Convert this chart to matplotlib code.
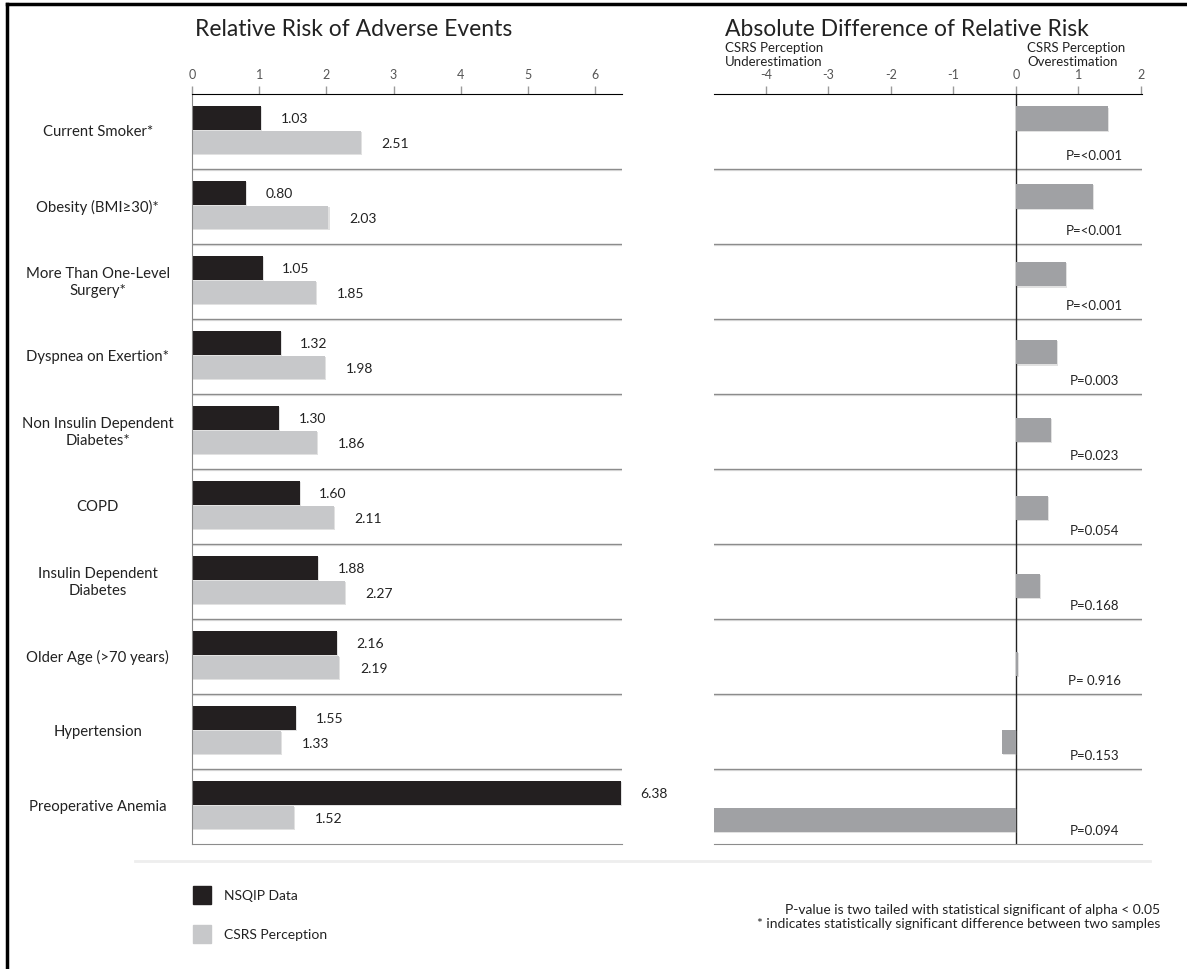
import numpy as np
import matplotlib
matplotlib.use("Agg")
import matplotlib.pyplot as plt
import matplotlib.patheffects as pe
from matplotlib.lines import Line2D
from matplotlib.patches import Rectangle

plt.rcParams['font.family'] = ['Lato', 'DejaVu Sans']
plt.rcParams['axes.unicode_minus'] = False

categories = ["Current Smoker*", "Obesity (BMI\u226530)*", "More Than One-Level\nSurgery*",
              "Dyspnea on Exertion*", "Non Insulin Dependent\nDiabetes*", "COPD",
              "Insulin Dependent\nDiabetes", "Older Age (>70 years)", "Hypertension",
              "Preoperative Anemia"]
nsqip = [1.03, 0.80, 1.05, 1.32, 1.30, 1.60, 1.88, 2.16, 1.55, 6.38]
csrs = [2.51, 2.03, 1.85, 1.98, 1.86, 2.11, 2.27, 2.19, 1.33, 1.52]
abs_diff = [1.48, 1.23, 0.80, 0.66, 0.56, 0.51, 0.39, 0.03, -0.22, -4.86]
p_labels = ["P=<0.001", "P=<0.001", "P=<0.001", "P=0.003", "P=0.023",
            "P=0.054", "P=0.168", "P= 0.916", "P=0.153", "P=0.094"]
left_ticks = [0, 1, 2, 3, 4, 5, 6]
right_ticks = [-4, -3, -2, -1, 0, 1, 2]

BLACK = '#231f20'
LIGHT = '#c7c8ca'
MID = '#a0a1a4'
SEP = '#8c8c8c'
TXT = '#222222'

W, H = 1187, 970
fig = plt.figure(figsize=(W / 100, H / 100), dpi=100)

shadow = [pe.SimplePatchShadow(offset=(0.8, -0.8), shadow_rgbFace='#888888', alpha=0.25), pe.Normal()]
line_shadow = [pe.SimpleLineShadow(offset=(0, -1), shadow_color='#cccccc', alpha=0.5), pe.Normal()]

y = np.arange(len(categories))

# ---- left panel: relative risk
ax1 = fig.add_axes([192 / W, 1 - 845 / H, 430 / W, 750 / H])
ax1.barh(y - 0.18, nsqip, height=0.31, color=BLACK, path_effects=shadow)
ax1.barh(y + 0.15, csrs, height=0.31, color=LIGHT, path_effects=shadow)
ax1.set_xlim(0, 6.4)
ax1.set_ylim(9.5, -0.5)
for i in range(len(categories) - 1):
    ax1.axhline(i + 0.5, color=SEP, lw=1, path_effects=line_shadow)
for i, (a, b) in enumerate(zip(nsqip, csrs)):
    ax1.annotate(f"{a:.2f}", (a, i - 0.18), xytext=(14, 0), textcoords='offset points',
                 va='center', fontsize=10, color=TXT)
    ax1.annotate(f"{b:.2f}", (b, i + 0.15), xytext=(15, 0), textcoords='offset points',
                 va='center', fontsize=10, color=TXT)
    ax1.text(-0.219, i, categories[i], transform=ax1.get_yaxis_transform(),
             ha='center', va='center', fontsize=10.7, color=TXT, linespacing=1.2)

ax1.xaxis.tick_top()
ax1.set_xticks(left_ticks)
ax1.tick_params(axis='x', length=6, width=1, color='#9a9a9a', labelcolor='#555555',
                labelsize=9, pad=4)
ax1.set_yticks([])
ax1.spines['right'].set_visible(False)
ax1.spines['top'].set_color('black')
ax1.spines['left'].set_color('#888888')
ax1.spines['bottom'].set_color(SEP)

# ---- right panel: absolute difference
ax2 = fig.add_axes([714 / W, 1 - 845 / H, 428 / W, 750 / H])
ax2.set_xlim(-4.83, 2.02)
ax2.set_ylim(9.5, -0.5)
for i in range(len(categories) - 1):
    ax2.axhline(i + 0.5, color=SEP, lw=1, path_effects=line_shadow)
ax2.axvline(0, color=TXT, lw=1)
for i, p in enumerate(p_labels):
    ax2.text(1.26, i + 0.31, p, ha='center', va='center', fontsize=9.5, color=TXT)
ax2.xaxis.tick_top()
ax2.set_xticks(right_ticks)
ax2.tick_params(axis='x', length=6, width=1, color='#9a9a9a', labelcolor='#555555',
                labelsize=9, pad=4)
ax2.set_yticks([])
for s in ['left', 'right']:
    ax2.spines[s].set_visible(False)
ax2.spines['top'].set_color('black')
ax2.spines['bottom'].set_color(SEP)

# bars of the right panel sit on a slightly different vertical scale
ax3 = fig.add_axes(ax2.get_position(), sharex=ax2)
ax3.set_ylim(9.308, -0.314)
ax3.barh(y, abs_diff, height=0.31, color=MID, path_effects=shadow)
ax3.axis('off')

fig.text(195 / W, 1 - 30 / H, "Relative Risk of Adverse Events", fontsize=16.5,
         va='center', ha='left', color=TXT)
fig.text(725 / W, 1 - 30 / H, "Absolute Difference of Relative Risk", fontsize=16.5,
         va='center', ha='left', color=TXT)
fig.text(725 / W, 1 - 55 / H, "CSRS Perception\nUnderestimation", fontsize=9.5,
         va='center', ha='left', color=TXT, linespacing=1.25)
fig.text(1027 / W, 1 - 55 / H, "CSRS Perception\nOverestimation", fontsize=9.5,
         va='center', ha='left', color=TXT, linespacing=1.25)

# ---- legend
for yy, col, lab in [(896, BLACK, "NSQIP Data"), (935, LIGHT, "CSRS Perception")]:
    fig.add_artist(Rectangle((193 / W, 1 - (yy + 9) / H), 18 / W, 18 / H, color=col,
                             transform=fig.transFigure, path_effects=shadow))
    fig.text(224 / W, 1 - yy / H, lab, fontsize=10, va='center', ha='left', color=TXT)

fig.text(1160 / W, 1 - 917 / H, "P-value is two tailed with statistical significant of alpha < 0.05\n"
         "* indicates statistically significant difference between two samples",
         fontsize=10, va='center', ha='right', color=TXT, linespacing=1.15)

# faint divider and frame
fig.add_artist(Line2D([135 / W, 1150 / W], [1 - 862 / H] * 2, color='#eeeeee', lw=2))
fig.add_artist(Line2D([7 / W, 1], [1 - 5 / H] * 2, color='black', lw=2.5))
fig.add_artist(Line2D([7 / W, 7 / W], [0, 1 - 5 / H], color='black', lw=2.5))

fig.savefig("out.png", dpi=100, facecolor='white')
